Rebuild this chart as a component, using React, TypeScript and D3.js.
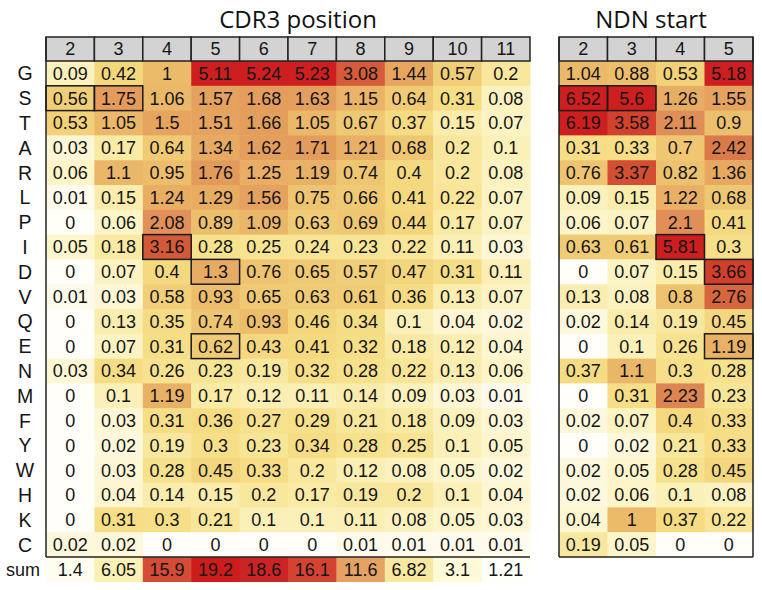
import React from "react";
import * as d3 from "d3";

const rows = ["G","S","T","A","R","L","P","I","D","V","Q","E","N","M","F","Y","W","H","K","C"];
const cdr3Cols = ["2","3","4","5","6","7","8","9","10","11"];
const ndnCols = ["2","3","4","5"];

const cdr3Values: number[][] = [
  [0.09,0.42,1,5.11,5.24,5.23,3.08,1.44,0.57,0.2],
  [0.56,1.75,1.06,1.57,1.68,1.63,1.15,0.64,0.31,0.08],
  [0.53,1.05,1.5,1.51,1.66,1.05,0.67,0.37,0.15,0.07],
  [0.03,0.17,0.64,1.34,1.62,1.71,1.21,0.68,0.2,0.1],
  [0.06,1.1,0.95,1.76,1.25,1.19,0.74,0.4,0.2,0.08],
  [0.01,0.15,1.24,1.29,1.56,0.75,0.66,0.41,0.22,0.07],
  [0,0.06,2.08,0.89,1.09,0.63,0.69,0.44,0.17,0.07],
  [0.05,0.18,3.16,0.28,0.25,0.24,0.23,0.22,0.11,0.03],
  [0,0.07,0.4,1.3,0.76,0.65,0.57,0.47,0.31,0.11],
  [0.01,0.03,0.58,0.93,0.65,0.63,0.61,0.36,0.13,0.07],
  [0,0.13,0.35,0.74,0.93,0.46,0.34,0.1,0.04,0.02],
  [0,0.07,0.31,0.62,0.43,0.41,0.32,0.18,0.12,0.04],
  [0.03,0.34,0.26,0.23,0.19,0.32,0.28,0.22,0.13,0.06],
  [0,0.1,1.19,0.17,0.12,0.11,0.14,0.09,0.03,0.01],
  [0,0.03,0.31,0.36,0.27,0.29,0.21,0.18,0.09,0.03],
  [0,0.02,0.19,0.3,0.23,0.34,0.28,0.25,0.1,0.05],
  [0,0.03,0.28,0.45,0.33,0.2,0.12,0.08,0.05,0.02],
  [0,0.04,0.14,0.15,0.2,0.17,0.19,0.2,0.1,0.04],
  [0,0.31,0.3,0.21,0.1,0.1,0.11,0.08,0.05,0.03],
  [0.02,0.02,0,0,0,0,0.01,0.01,0.01,0.01],
];
const cdr3Sum = [1.4,6.05,15.9,19.2,18.6,16.1,11.6,6.82,3.1,1.21];

const ndnValues: number[][] = [
  [1.04,0.88,0.53,5.18],
  [6.52,5.6,1.26,1.55],
  [6.19,3.58,2.11,0.9],
  [0.31,0.33,0.7,2.42],
  [0.76,3.37,0.82,1.36],
  [0.09,0.15,1.22,0.68],
  [0.06,0.07,2.1,0.41],
  [0.63,0.61,5.81,0.3],
  [0,0.07,0.15,3.66],
  [0.13,0.08,0.8,2.76],
  [0.02,0.14,0.19,0.45],
  [0,0.1,0.26,1.19],
  [0.37,1.1,0.3,0.28],
  [0,0.31,2.23,0.23],
  [0.02,0.07,0.4,0.33],
  [0,0.02,0.21,0.33],
  [0.02,0.05,0.28,0.45],
  [0.02,0.06,0.1,0.08],
  [0.04,1,0.37,0.22],
  [0.19,0.05,0,0],
];

// highlighted cells: [row, column]
const highlights: [string, string][] = [["S","2"],["S","3"],["I","4"],["D","5"],["E","5"]];

const cellColor = d3.scaleLinear<string>()
  .domain([0,0.01,0.02,0.05,0.1,0.2,0.3,0.42,0.56,0.7,1.0,1.3,1.6,2.1,2.4,2.8,3.2,3.6,4.5,5.1])
  .range(["#fffef8","#fffbec","#fdf8dc","#fdf5cb","#fbf0b8","#f8e79c","#f6df88","#f4d87e","#f1cf78","#efc672","#ebbb6a","#e8ab63","#e5a05d","#e08f58","#db7b4a","#d6633d","#d45838","#d1402d","#cf2a24","#ce1f20"])
  .clamp(true);

const sumColor = d3.scaleLinear<string>()
  .domain([1.21,1.4,3.1,6.05,6.82,11.6,15.9,16.1,18.6,19.2])
  .range(["#fffffa","#fffdf0","#fefad8","#fbf1b4","#f8e7a0","#e6a263","#d44c36","#d44332","#cc2424","#cc1c1c"])
  .clamp(true);

const W = 762, H = 590;
const top = 37, headerBottom = 61, dataBottom = 557, sumBottom = 582;
const font = "Liberation Sans";
const titleFont = "Open Sans";
const fs = 18;

function Panel({ cols, values, x0, x1, title, titleX, sums, fullBox }: {
  cols: string[]; values: number[][]; x0: number; x1: number; title: string; titleX: number; sums?: number[]; fullBox: boolean;
}) {
  const x = d3.scaleBand<string>().domain(cols).range([x0, x1]);
  const y = d3.scaleBand<string>().domain(rows).range([headerBottom, dataBottom]);
  const bw = x.bandwidth(), bh = y.bandwidth();
  return (
    <g>
      <text x={titleX} y={28} textAnchor="middle" fontFamily={titleFont} fontSize={24} fill="#111">{title}</text>
      {rows.map((r, i) => cols.map((c, j) => (
        <rect key={r + c} x={x(c)!} y={y(r)!} width={bw + 0.5} height={bh + 0.5} fill={cellColor(values[i][j])} />
      )))}
      {rows.map((r, i) => cols.map((c, j) => (
        <text key={"t" + r + c} x={x(c)! + bw / 2} y={y(r)! + bh / 2 + 6.4} textAnchor="middle" fontFamily={font} fontSize={fs} fill="#151515">{String(values[i][j])}</text>
      )))}
      {sums && cols.map((c, j) => (
        <g key={"s" + c}>
          <rect x={x(c)!} y={dataBottom} width={bw + 0.5} height={sumBottom - dataBottom} fill={sumColor(sums[j])} />
          <text x={x(c)! + bw / 2} y={(dataBottom + sumBottom) / 2 + 6.4} textAnchor="middle" fontFamily={font} fontSize={fs} fill="#151515">{String(sums[j])}</text>
        </g>
      ))}
      {cols.map((c) => (
        <g key={"h" + c}>
          <rect x={x(c)!} y={top} width={bw} height={headerBottom - top} fill="#d3d3d3" stroke="#222" strokeWidth={1.5} />
          <text x={x(c)! + bw / 2} y={(top + headerBottom) / 2 + 6.4} textAnchor="middle" fontFamily={font} fontSize={fs} fill="#151515">{c}</text>
        </g>
      ))}
      {highlights.map(([r, c]) => (
        <rect key={"b" + r + c} x={x(c)!} y={y(r)!} width={bw} height={bh} fill="none" stroke="#1a1a1a" strokeWidth={1.5} />
      ))}
      <line x1={x0} x2={x0} y1={top} y2={dataBottom} stroke="#222" strokeWidth={1.5} />
      <line x1={x0} x2={x1} y1={dataBottom} y2={dataBottom} stroke="#222" strokeWidth={1.5} />
      {fullBox && <line x1={x1} x2={x1} y1={top} y2={dataBottom} stroke="#222" strokeWidth={1.5} />}
    </g>
  );
}

export default function App() {
  const y = d3.scaleBand<string>().domain(rows).range([headerBottom, dataBottom]);
  const bh = y.bandwidth();
  return (
    <svg width={W} height={H} style={{ position: "absolute", left: 0, top: 0, background: "#fff" }}>
      <rect width={W} height={H} fill="#fff" />
      {rows.map((r) => (
        <text key={"l" + r} x={25} y={y(r)! + bh / 2 + 7} textAnchor="middle" fontFamily={font} fontSize={19.5} fill="#151515">{r}</text>
      ))}
      <text x={23} y={(dataBottom + sumBottom) / 2 + 6.4} textAnchor="middle" fontFamily={font} fontSize={fs} fill="#151515">sum</text>
      <Panel cols={cdr3Cols} values={cdr3Values} x0={46} x1={530} title="CDR3 position" titleX={298} sums={cdr3Sum} fullBox={false} />
      <Panel cols={ndnCols} values={ndnValues} x0={559} x1={753} title="NDN start" titleX={651} fullBox={true} />
    </svg>
  );
}
